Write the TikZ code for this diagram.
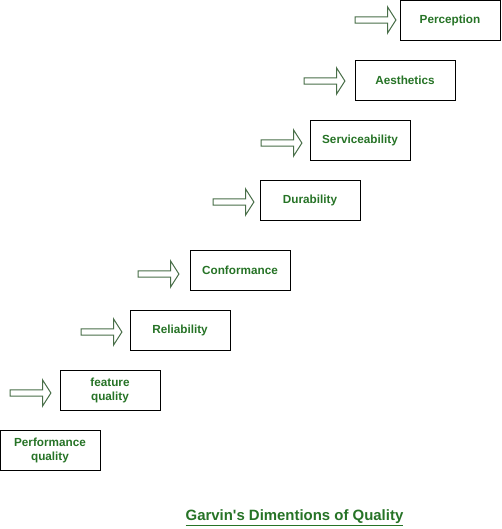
\documentclass[tikz,border=0pt]{standalone}
\usepackage{fontspec}
\setmainfont{Liberation Sans}
\usepackage{xcolor}
\usepackage{tikz}
\usetikzlibrary{positioning,
                shapes.arrows}

\definecolor{qgreen}{RGB}{38,115,38}
\definecolor{agreen}{RGB}{72,110,72}

\tikzset{
  qbox/.style={draw=black, line width=0.75pt, minimum width=75pt,
               minimum height=30pt, inner sep=1pt, align=center,
               text=qgreen, font=\fontsize{8.8}{10.5}\selectfont\bfseries},
  blockarrow/.style={single arrow, draw=agreen, fill=white, line width=0.75pt,
               minimum height=30.5pt, minimum width=19.5pt, inner xsep=0pt,
               inner ysep=2pt, single arrow head extend=7.5pt,
               single arrow tip angle=115}
}

\begin{document}
\begin{tikzpicture}[x=0.75pt,y=-0.75pt]
\useasboundingbox (0,0) rectangle (501,529);

\foreach \name/\x/\y/\txt in {perception/450/20/Perception,
                              aesthetics/405/80/Aesthetics,
                              service/360/140/Serviceability,
                              durability/310/200/Durability,
                              conformance/240/270/Conformance,
                              reliability/180/330/Reliability,
                              feature/110/390/{feature\\quality},
                              performance/50/450/{Performance\\quality}}
  \node[qbox] (\name) at (\x,\y) {\txt};

% arrows pointing at the next dimension
\foreach \name/\gap/\dy in {perception/2.25/0,
                            aesthetics/6.75/-0.75,
                            service/5.25/-2.25,
                            durability/3.75/-1.5,
                            conformance/7.5/-3,
                            reliability/5.25/-1.5,
                            feature/6/-2.25}
  \node[blockarrow, left=\gap pt of \name, yshift=\dy pt] (arr-\name) {};

\node[text=qgreen, font=\fontsize{11.2}{13}\selectfont\bfseries] (title)
  at (294.5,518) {\underline{Garvin\textquotesingle s Dimentions of Quality}};
\end{tikzpicture}
\end{document}
